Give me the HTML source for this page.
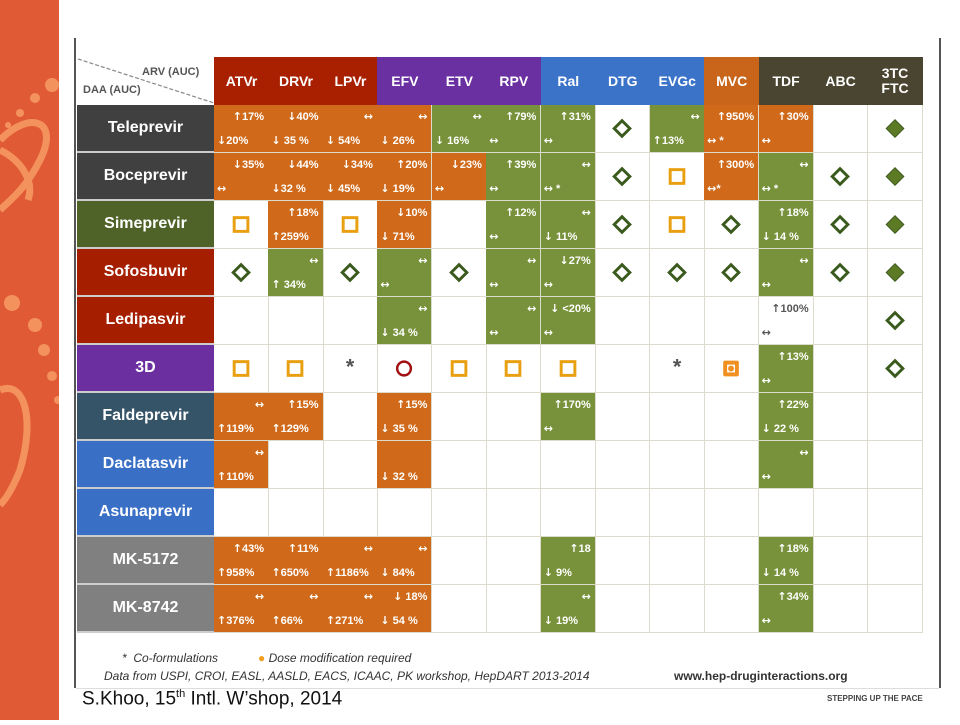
<!DOCTYPE html>
<html><head><meta charset="utf-8">
<style>
html,body{margin:0;padding:0;width:960px;height:720px;overflow:hidden;background:#fff;font-family:"Liberation Sans","DejaVu Sans",sans-serif;}
#side{position:absolute;left:0;top:0;width:59px;height:720px;background:#E05A36;}
#frameL{position:absolute;left:74px;top:38px;width:2px;height:650px;background:#555;}
#frameR{position:absolute;left:939px;top:38px;width:2px;height:650px;background:#555;}
#frameB{position:absolute;left:76px;top:688px;width:863px;height:1px;background:#ddd;}
.hd{position:absolute;color:#fff;font-weight:bold;font-size:14px;display:flex;align-items:center;justify-content:center;text-align:center;line-height:15px;}
.rl{position:absolute;color:#fff;font-weight:bold;font-size:16px;display:flex;align-items:center;justify-content:center;box-sizing:border-box;border-bottom:2px solid #ccc;}
.cell{position:absolute;box-sizing:border-box;border-right:1px solid #DDDBCB;border-bottom:1px solid #DDDBCB;font-weight:bold;font-size:11px;color:#fff;}
.cell .t{position:absolute;right:4px;top:5px;}
.cell .b{position:absolute;left:3px;bottom:5px;}
.ar{font-family:"DejaVu Sans",sans-serif;font-size:11px;}
.sym{position:absolute;left:0;top:0;width:100%;height:100%;}
</style></head><body>
<div id="side">
<svg width="59" height="720">
<g fill="#F4925E" stroke="none">
<circle cx="52" cy="85" r="7"/><circle cx="35" cy="98" r="5"/><circle cx="20" cy="113" r="4"/><circle cx="8" cy="125" r="3"/>
<circle cx="12" cy="303" r="8"/><circle cx="35" cy="325" r="7"/><circle cx="44" cy="350" r="6"/><circle cx="52" cy="376" r="5"/><circle cx="58" cy="400" r="4"/>
</g>
<g fill="none" stroke="#F4925E" stroke-width="7">
<path d="M0 140 C30 110 60 120 40 160 C25 190 10 200 0 210"/>
<path d="M0 150 C20 160 35 180 28 200"/>
<path d="M0 390 C25 380 35 420 20 470 C12 490 5 500 0 505"/>
</g>
</svg>
</div>
<div id="frameL"></div>
<div id="frameR"></div>
<div id="frameB"></div>
<svg style="position:absolute;left:76px;top:57px" width="140" height="48">
<line x1="2" y1="2" x2="138" y2="46" stroke="#888" stroke-width="1.2" stroke-dasharray="4,2"/>
<text x="66" y="18" font-size="11" font-weight="bold" fill="#555" font-family="Liberation Sans, sans-serif">ARV (AUC)</text>
<text x="7" y="36" font-size="11" font-weight="bold" fill="#555" font-family="Liberation Sans, sans-serif">DAA (AUC)</text>
</svg>
<div id="grid"></div>
<div style="position:absolute;left:122px;top:651px;font-size:12px;font-style:italic;color:#333;">* &nbsp;Co-formulations</div>
<div style="position:absolute;left:258px;top:651px;font-size:12px;font-style:italic;color:#333;"><span style="color:#F0A020">●</span> Dose modification required</div>
<div style="position:absolute;left:104px;top:669px;font-size:12px;font-style:italic;color:#333;">Data from USPI, CROI, EASL, AASLD, EACS, ICAAC, PK workshop, HepDART 2013-2014</div>
<div style="position:absolute;left:674px;top:669px;font-size:12px;font-weight:bold;color:#333;">www.hep-druginteractions.org</div>
<div style="position:absolute;left:82px;top:688px;font-size:19px;color:#111;">S.Khoo, 15<sup style="font-size:11px">th</sup> Intl. W’shop, 2014</div>
<div style="position:absolute;left:827px;top:694px;font-size:8px;font-weight:bold;color:#444;">STEPPING UP THE PACE</div>
<script>
const columns=["ATVr","DRVr","LPVr","EFV","ETV","RPV","Ral","DTG","EVGc","MVC","TDF","ABC","3TC FTC"];
const columnColors=["#A82000","#A82000","#A82000","#6A2FA0","#6A2FA0","#6A2FA0","#3B73C8","#3B73C8","#3B73C8","#C8651A","#4A4530","#4A4530","#4A4530"];
const rows=["Teleprevir","Boceprevir","Simeprevir","Sofosbuvir","Ledipasvir","3D","Faldeprevir","Daclatasvir","Asunaprevir","MK-5172","MK-8742"];
const rowColors=["#404040","#404040","#4F6228","#A51E00","#A51E00","#6B2FA0","#365468","#3A6FC6","#3A6FC6","#808080","#808080"];
const cells=[
["O|↑17%|↓20%","O|↓40%|↓ 35 %","O|↔|↓ 54%","O|↔|↓ 26%","G|↔|↓ 16%","G|↑79%|↔","G|↑31%|↔","D","G|↔|↑13%","O|↑950%|↔ *","O|↑30%|↔","E","F"],
["O|↓35%|↔","O|↓44%|↓32 %","O|↓34%|↓ 45%","O|↑20%|↓ 19%","O|↓23%|↔","G|↑39%|↔","G|↔|↔ *","D","S","O|↑300%|↔*","G|↔|↔ *","D","F"],
["S","O|↑18%|↑259%","S","O|↓10%|↓ 71%","E","G|↑12%|↔","G|↔|↓ 11%","D","S","D","G|↑18%|↓ 14 %","D","F"],
["D","G|↔|↑ 34%","D","G|↔|↔","D","G|↔|↔","G|↓27%|↔","D","D","D","G|↔|↔","D","F"],
["E","E","E","G|↔|↓ 34 %","E","G|↔|↔","G|↓ <20%|↔","E","E","E","W|↑100%|↔","E","D"],
["S","S","X","C","S","S","S","E","X","Q","G|↑13%|↔","E","D"],
["O|↔|↑119%","O|↑15%|↑129%","E","O|↑15%|↓ 35 %","E","E","G|↑170%|↔","E","E","E","G|↑22%|↓ 22 %","E","E"],
["O|↔|↑110%","E","E","O||↓ 32 %","E","E","E","E","E","E","G|↔|↔","E","E"],
["E","E","E","E","E","E","E","E","E","E","E","E","E"],
["O|↑43%|↑958%","O|↑11%|↑650%","O|↔|↑1186%","O|↔|↓ 84%","E","E","G|↑18|↓ 9%","E","E","E","G|↑18%|↓ 14 %","E","E"],
["O|↔|↑376%","O|↔|↑66%","O|↔|↑271%","O|↓ 18%|↓ 54 %","E","E","G|↔|↓ 19%","E","E","E","G|↑34%|↔","E","E"]
];
const X0=214,Y0=105,CW=54.46,RH=48,HY=57,HH=48,LX=77;
const xPos=i=>X0+i*CW, yPos=j=>Y0+j*RH;
const fmt=s=>s.replace(/(↔|↑|↓)/g,'<span class="ar">$1</span>');
const grid=document.getElementById('grid');
columns.forEach((c,i)=>{
  const d=document.createElement('div');
  d.className='hd';
  
  
  d.style.left=xPos(i)+'px';d.style.top=HY+'px';d.style.width=(CW+0.6)+'px';d.style.height=HH+'px';
  d.style.background=columnColors[i];
  d.innerHTML=c.replace(' ','<br>');
  grid.appendChild(d);
});
rows.forEach((r,j)=>{
  const d=document.createElement('div');
  d.className='rl';
  
  
  d.style.left=LX+'px';d.style.top=yPos(j)+'px';d.style.width=(X0-LX)+'px';d.style.height=RH+'px';
  d.style.background=rowColors[j];
  d.textContent=r;
  grid.appendChild(d);
  cells[j].forEach((code,i)=>{
    const c=document.createElement('div');
    c.className='cell';
    
    
    c.style.left=xPos(i)+'px';c.style.top=yPos(j)+'px';c.style.width=(CW+0.6)+'px';c.style.height=RH+'px';
    const p=code.split('|');
    const k=p[0];
    if(k==='O'||k==='G'||k==='W'){
      c.style.background=k==='O'?'#D06A1A':(k==='G'?'#77923A':'#fff');
      if(k==='W')c.style.color='#555';
      c.innerHTML='<span class="t">'+fmt(p[1])+'</span><span class="b">'+fmt(p[2])+'</span>';
    }else{
      let s='';
      if(k==='D')s='<polygon points="27,16 35,24 27,32 19,24" fill="none" stroke="#3B5A1E" stroke-width="3"/>';
      if(k==='F')s='<polygon points="27,15 36,24 27,33 18,24" fill="#5C7A24" stroke="#3B5A1E" stroke-width="1"/>';
      if(k==='S')s='<rect x="20" y="17" width="14" height="14" fill="none" stroke="#E8A010" stroke-width="3"/>';
      if(k==='Q')s='<rect x="19" y="16" width="16" height="16" rx="2" fill="#F09020"/><rect x="23" y="20" width="8" height="8" fill="#fff"/><circle cx="27" cy="24" r="3" fill="#F09020"/>';
      if(k==='C')s='<circle cx="27" cy="24" r="7" fill="none" stroke="#A01010" stroke-width="2.5"/>';
      if(k==='X')s='<text x="27" y="29" text-anchor="middle" font-size="22" font-weight="bold" fill="#555" font-family="Liberation Sans, sans-serif">*</text>';
      if(s)c.innerHTML='<svg class="sym" viewBox="0 0 54 48">'+s+'</svg>';
    }
    grid.appendChild(c);
  });
});
</script>
</body></html>
